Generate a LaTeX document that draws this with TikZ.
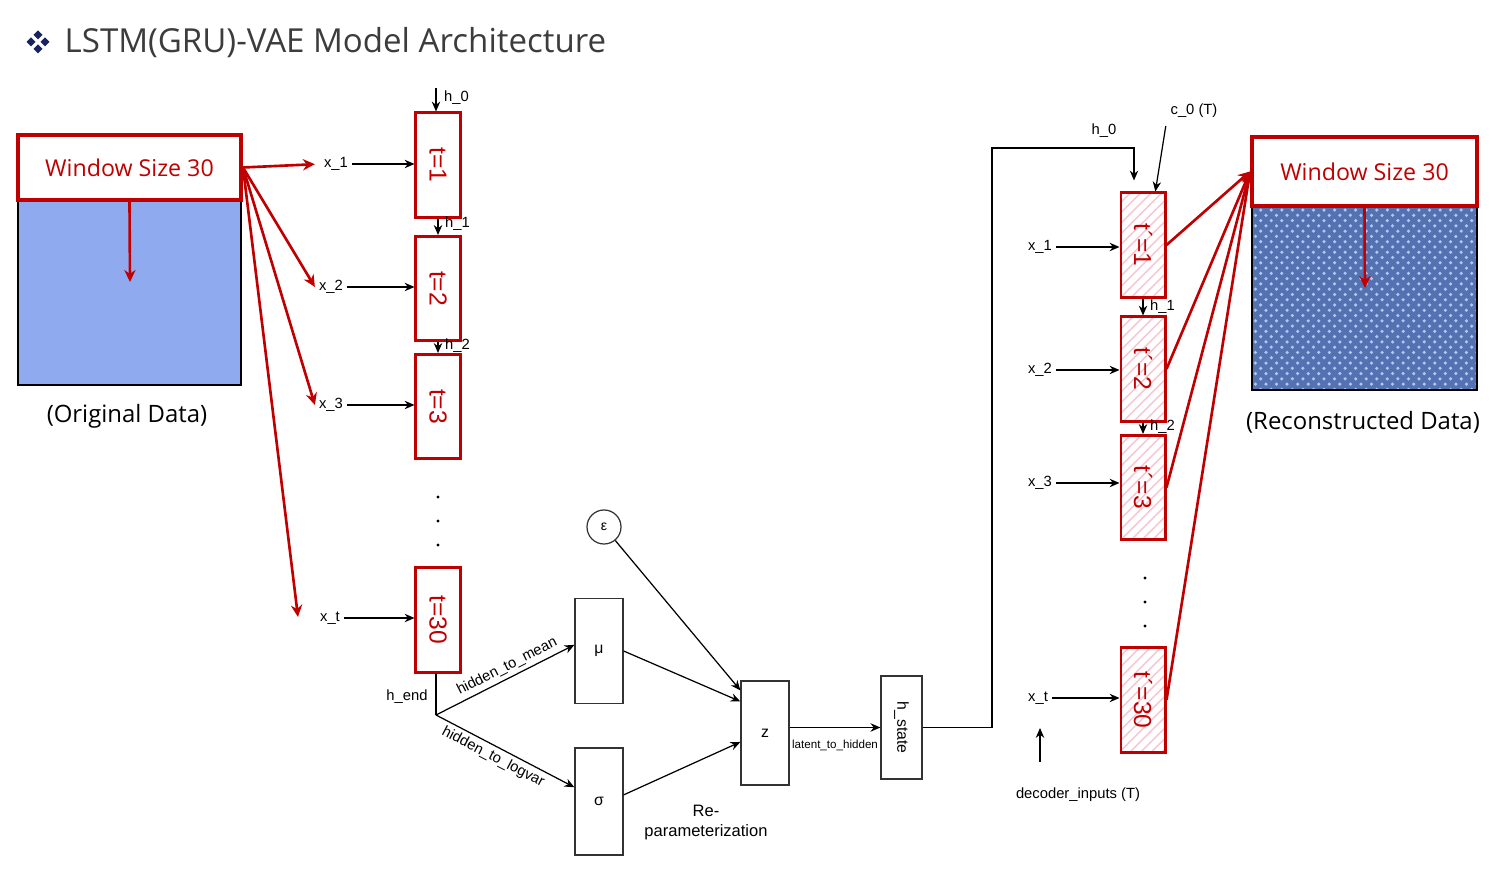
\documentclass[tikz,border=0pt]{standalone}
\usepackage{fontspec}
\setmainfont{Liberation Sans}
\newfontfamily\headfont{Open Sans}
\usepackage{xcolor}
\usepackage{tikz}
\usetikzlibrary{arrows.meta,positioning,calc,patterns}
\definecolor{cellred}{RGB}{192,0,0}
\definecolor{datablue}{RGB}{143,170,238}
\definecolor{texblue}{RGB}{84,114,178}
\definecolor{texlight}{RGB}{178,200,242}
\definecolor{hatchpink}{RGB}{246,196,210}
\definecolor{titlegray}{RGB}{60,60,60}
\definecolor{bulletnavy}{RGB}{24,36,96}
\tikzstyle{arrow} = [line width=0.35pt,-{Stealth[length=2.8pt,width=2.4pt]}]
\tikzstyle{wire} = [line width=0.35pt]
\tikzstyle{redarrow} = [line width=0.75pt,cellred,-{Stealth[length=3.4pt,width=3.2pt]}]
\newcommand{\vtext}[1]{\rotatebox{-90}{#1}}

\begin{document}
\begin{tikzpicture}[x=0.01cm,y=-0.01cm,
    enccell/.style={rectangle, draw=cellred, line width=0.85pt, fill=white,
                 minimum width=0.44cm, minimum height=1.04cm, inner sep=0pt,
                 font=\fontsize{7}{8}\selectfont, text=cellred},
    deccell/.style={enccell, pattern=north east lines, pattern color=hatchpink},
    layer/.style={rectangle, draw=black!80, line width=0.35pt, minimum width=0.48cm,
                 minimum height=1.05cm, inner sep=0pt, font=\fontsize{4.5}{5}\selectfont},
    lbl/.style={font=\fontsize{4.2}{5}\selectfont, inner sep=1pt},
    winbox/.style={rectangle, draw=cellred, line width=1.1pt, fill=white,
                 minimum width=2.23cm, minimum height=0.65cm, text=cellred,
                 font=\headfont\fontsize{6.6}{8}\selectfont},
    databox/.style={rectangle, draw=black, line width=0.5pt,
                 minimum width=2.23cm, minimum height=1.85cm},
    caption/.style={font=\headfont\fontsize{6.8}{8}\selectfont}
]
\useasboundingbox (0,0) rectangle (1500,880);

% title
\foreach \dx/\dy in {-7/0,7/0,0/-7,0/7}
  \fill[bulletnavy,shift={(38+\dx,42+\dy)}] (-4.5,0) -- (0,-4.5) -- (4.5,0) -- (0,4.5) -- cycle;
\node[anchor=west, text=titlegray, font=\headfont\fontsize{9.4}{11}\selectfont, inner sep=0pt] (title) at (64,43) {LSTM(GRU)-VAE Model Architecture};

% original data
\node[databox, fill=datablue] (dataL) at (129.5,292.5) {};
\node[winbox] (winL) at (129.5,167.5) {Window Size 30};
\coordinate (dataLend) at (130,282);
\draw[redarrow] (winL.south) -- (dataLend);
\node[caption] (capL) at (127,416) {(Original Data)};

% encoder
\node[enccell] (enc1) at (438,165) {\vtext{t=1}};
\node[enccell] (enc2) at (438,288.5) {\vtext{t=2}};
\node[enccell] (enc3) at (438,406.5) {\vtext{t=3}};
\node[enccell] (enc30) at (438,620) {\vtext{t=30}};
\foreach \y in {497,521,545} \fill (438,\y) circle (1.7);

\node[lbl] (xe1) at (336,164) {x\_1};
\node[lbl] (xe2) at (331,287) {x\_2};
\node[lbl] (xe3) at (331,405) {x\_3};
\node[lbl] (xet) at (330,618) {x\_t};
\coordinate (xtend) at (298,617);
\draw[redarrow, shorten >=0.05cm] (winL.east) -- (xe1.west);
\draw[redarrow] (winL.east) -- (xe2.west);
\draw[redarrow] (winL.east) -- (xe3.west);
\draw[redarrow] (winL.east) -- (xtend);
\foreach \i in {1,2,3,t}
  \draw[arrow] (xe\i) -- (xe\i -| enc1.west);

\coordinate (h0in) at (436,88);
\draw[arrow] (h0in) -- (h0in |- enc1.north);
\node[lbl, anchor=west] (he0) at (440,98) {h\_0};
\draw[arrow] (enc1.south) -- (enc2.north);
\node[lbl, anchor=west] (he1) at (441,224) {h\_1};
\draw[arrow] (enc2.south) -- (enc3.north);
\node[lbl, anchor=west] (he2) at (441,346) {h\_2};

% latent part
\coordinate (hend) at (436,715);
\draw[wire] (enc30.south -| hend) -- (hend);
\node[lbl] (hendlbl) at (407,697) {h\_end};
\node[layer] (mu) at (599,651) {μ};
\node[layer, minimum height=1.07cm] (sigma) at (599,801.5) {σ};
\draw[arrow] (hend) -- node[lbl, sloped, above, pos=0.55] {hidden\_to\_mean} (mu.166);
\draw[arrow] (hend) -- node[lbl, sloped, below, pos=0.45] {hidden\_to\_logvar} (sigma.150);

\node[circle, draw=black!80, line width=0.35pt, minimum size=0.34cm, inner sep=0pt,
      font=\fontsize{4}{5}\selectfont] (eps) at (604,527) {ε};
\node[layer, minimum height=1.04cm] (z) at (765,733) {z};
\draw[arrow] (eps) -- (z.120);
\draw[arrow] (mu.east) -- (z.128);
\draw[arrow] (sigma.15) -- (z.200);
\node[align=center, font=\fontsize{4.7}{5.7}\selectfont] (reparam) at (706,823) {Re-\\parameterization};

\node[layer, minimum width=0.41cm, minimum height=1.03cm] (hstate) at (901.5,727.5) {\vtext{h\_state}};
\draw[arrow] (hstate.west -| z.east) -- (hstate.west);
\node[lbl, font=\fontsize{3.3}{4}\selectfont] (l2h) at (835,745) {latent\_to\_hidden};

% decoder
\node[deccell] (dec1) at (1143,245) {\vtext{t´=1}};
\node[deccell] (dec2) at (1143,369) {\vtext{t´=2}};
\node[deccell] (dec3) at (1143,487.5) {\vtext{t´=3}};
\node[deccell] (dec30) at (1143,700) {\vtext{t´=30}};
\foreach \y in {578,602,626} \fill (1145,\y) circle (1.7);

\coordinate (loopup) at (992,148);
\coordinate (h0dec) at (1134,148);
\draw[arrow, shorten >=0.11cm] (hstate.east) -| (loopup) -- (h0dec) -- (h0dec |- dec1.north);
\node[lbl] (hd0) at (1104,131) {h\_0};
\node[lbl] (c0) at (1194,111) {c\_0 (T)};
\draw[arrow, shorten <=0.04cm] (c0.south west) -- (dec1.77);

\node[lbl] (xd1) at (1040,247) {x\_1};
\node[lbl] (xd2) at (1040,370) {x\_2};
\node[lbl] (xd3) at (1040,483) {x\_3};
\node[lbl] (xdt) at (1038,698) {x\_t};
\foreach \i in {1,2,3,t}
  \draw[arrow] (xd\i) -- (xd\i -| dec1.west);
\draw[arrow] (dec1.south) -- (dec2.north);
\node[lbl, anchor=west] (hd1) at (1146,307) {h\_1};
\draw[arrow] (dec2.south) -- (dec3.north);
\node[lbl, anchor=west] (hd2) at (1146,427) {h\_2};

\coordinate (dinlow) at (1040,762);
\coordinate (dinhigh) at (1040,728);
\draw[arrow] (dinlow) -- (dinhigh);
\node[lbl] (dinp) at (1078,795) {decoder\_inputs (T)};

% reconstructed data
\node[databox, minimum width=2.25cm, minimum height=1.84cm, preaction={fill=texblue},
      pattern=crosshatch dots, pattern color=texlight] (dataR) at (1364.5,298) {};
\node[winbox, minimum width=2.25cm, minimum height=0.69cm] (winR) at (1364.5,171.5) {Window Size 30};
\coordinate (dataRend) at (1365,288);
\draw[redarrow] (winR.south) -- (dataRend);
\node[caption] (capR) at (1363,422) {(Reconstructed Data)};
\foreach \c in {dec1,dec2,dec3,dec30}
  \draw[redarrow] (\c.east) -- (winR.west);
\end{tikzpicture}
\end{document}
